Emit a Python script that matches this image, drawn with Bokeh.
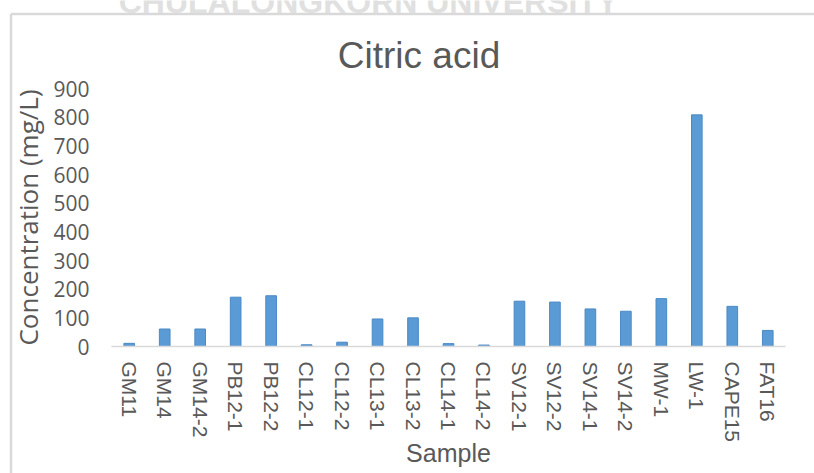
from bokeh.plotting import figure
from bokeh.models import ColumnDataSource, Range1d, FixedTicker, Label
from bokeh.embed import file_html
from bokeh.resources import INLINE

# Citric acid concentration per sample (mg/L)
samples = ["GM11", "GM14", "GM14-2", "PB12-1", "PB12-2", "CL12-1", "CL12-2",
           "CL13-1", "CL13-2", "CL14-1", "CL14-2", "SV12-1", "SV12-2",
           "SV14-1", "SV14-2", "MW-1", "LW-1", "CAPE15", "FAT16"]
citric_acid = [11, 61, 61, 172, 177, 6, 15, 96, 100, 10, 5, 158, 155,
               131, 123, 167, 808, 140, 56]
y_ticks = [0, 100, 200, 300, 400, 500, 600, 700, 800, 900]

title_text = "Citric acid"
x_label = "Sample"
y_label = "Concentration (mg/L)"
watermark_text = "CHULALONGKORN UNIVERSITY"

TEXT = "#595959"
BAR = "#5B9BD5"
RULE = "#D9D9D9"

# canvas size and the pixel box holding the bars (left, right, top, bottom)
W, H = 814, 473
B_LEFT, B_RIGHT, B_TOP, B_BOTTOM = 111, 785, 88, 346
Y_MAX = 900
N = len(samples)

# the frame fills the whole canvas; axes are pinned inside it
px_per_cat = (B_RIGHT - B_LEFT) / N
px_per_unit = (B_BOTTOM - B_TOP) / Y_MAX
x_start = -0.5 - B_LEFT / px_per_cat
x_end = N - 0.5 + (W - B_RIGHT) / px_per_cat
y_start = -(H - B_BOTTOM) / px_per_unit
y_end = Y_MAX + B_TOP / px_per_unit


def cx(px):
    """Canvas x pixel -> data x."""
    return x_start + px / px_per_cat


def cy(py):
    """Canvas y pixel (from top) -> data y."""
    return y_end - py / px_per_unit


positions = list(range(N))
source = ColumnDataSource(data=dict(pos=positions, value=citric_acid,
                                    sample=samples))

p = figure(width=W, height=H,
           x_range=Range1d(x_start, x_end), y_range=Range1d(y_start, y_end),
           output_backend="svg", toolbar_location=None,
           min_border=0, min_border_left=0, min_border_right=0,
           min_border_top=0, min_border_bottom=0)
p.outline_line_color = None
p.background_fill_color = "white"
p.border_fill_color = "white"
p.xgrid.grid_line_color = None
p.ygrid.grid_line_color = None

# chart area border: left and top edges, running off the canvas
p.segment(x0=[cx(10.5), cx(10.5)], y0=[cy(13.5), cy(13.5)],
          x1=[cx(10.5), cx(W + 30)], y1=[cy(H + 30), cy(13.5)],
          line_color=RULE, line_width=2.5)

p.vbar(x="pos", top="value", width=0.3, source=source,
       fill_color=BAR, line_color="#4A89C6", line_width=1)

# y axis: labels only, pinned at the left edge of the bars
ya = p.yaxis[0]
ya.fixed_location = -0.5
ya.bounds = (0, Y_MAX)
ya.ticker = FixedTicker(ticks=y_ticks)
ya.axis_line_color = None
ya.major_tick_line_color = None
ya.minor_tick_line_color = None
ya.major_tick_out = 0
ya.major_tick_in = 0
ya.minor_tick_out = 0
ya.major_label_standoff = 22
ya.major_label_text_font = "Open Sans"
ya.major_label_text_font_size = "21px"
ya.major_label_text_color = TEXT
ya.axis_label = y_label
ya.axis_label_text_font = "Open Sans"
ya.axis_label_text_font_size = "26px"
ya.axis_label_text_font_style = "normal"
ya.axis_label_text_color = TEXT
ya.axis_label_standoff = 4

# x axis: thin gray baseline at zero with vertical sample names
xa = p.xaxis[0]
xa.fixed_location = 0
xa.bounds = (-0.5, N - 0.5)
xa.ticker = FixedTicker(ticks=positions)
xa.major_label_overrides = {i: s for i, s in zip(positions, samples)}
xa.axis_line_color = RULE
xa.axis_line_width = 1.5
xa.major_tick_line_color = None
xa.minor_tick_line_color = None
xa.major_tick_out = 0
xa.major_tick_in = 0
xa.minor_tick_out = 0
xa.major_label_orientation = "vertical"
xa.major_label_standoff = 15
xa.major_label_text_font = "Liberation Sans"
xa.major_label_text_font_size = "21px"
xa.major_label_text_color = TEXT
xa.axis_label = x_label
xa.axis_label_text_font = "Liberation Sans"
xa.axis_label_text_font_size = "25px"
xa.axis_label_text_font_style = "normal"
xa.axis_label_text_color = TEXT
xa.axis_label_standoff = -6

# chart title
p.add_layout(Label(x=cx(418.5), y=cy(54.5), text=title_text,
                   text_align="center", text_baseline="alphabetic",
                   text_font="Liberation Sans", text_font_size="37px",
                   text_color=TEXT))

# page watermark running off the top edge
p.add_layout(Label(x=cx(368), y=cy(1.5), text=watermark_text,
                   text_align="center", text_baseline="alphabetic",
                   text_font="Liberation Sans", text_font_size="32px",
                   text_font_style="bold", text_color="#E0E0E0"))

open("out.html", "w").write(file_html(p, INLINE))
